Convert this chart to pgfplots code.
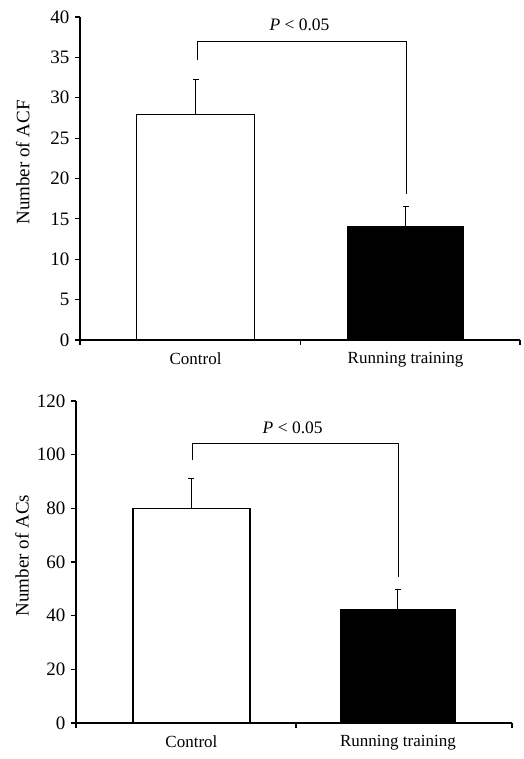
\documentclass[border=0pt]{standalone}
\usepackage{fontspec}
\setmainfont{Liberation Serif}
\usepackage{pgfplots}
\pgfplotsset{compat=1.18}
\pgfplotsset{
  panel/.style={
    scale only axis, anchor=south west,
    axis lines=left, axis line style={-, line width=1.3pt},
    tick align=outside, major tick length=5pt,
    tick style={line width=1.1pt, black},
    xticklabels={},
    /pgf/number format/assume math mode=true,
    yticklabel style={font=\fontsize{19}{22}\selectfont, xshift=-2pt},
    extra x tick style={major tick length=0pt, tick label style={yshift=-9pt}},
    extra x tick labels={Control,Running training},
    xticklabel style={font=\fontsize{17}{20}\selectfont},
    ylabel style={font=\fontsize{19}{22}\selectfont, anchor=center},
    clip=false,
  }
}
\begin{document}
\begin{tikzpicture}
\path (0pt,0pt) rectangle (521pt,759pt);
% Top panel
\begin{axis}[panel,
  at={(80pt,419pt)}, width=440pt, height=323pt,
  xmin=-0.55, xmax=1.545, ymin=0, ymax=40, ytick={0,5,...,40},
  xtick={-0.55,0.5,1.545}, extra x ticks={0,1},
  ylabel={Number of ACF},
  ylabel style={at={(axis description cs:-0.13,0.55)}},
]
\addplot[ybar, bar width=118pt, fill=white, draw=black, line width=1.2pt,
  error bars/.cd, y dir=plus, y explicit,
  error bar style={line width=1pt},
  error mark options={rotate=90, mark size=3pt, line width=1pt}]
  coordinates {(0,27.9) +- (0,4.4)};
\addplot[ybar, bar width=116pt, fill=black, draw=black, line width=1.2pt,
  error bars/.cd, y dir=plus, y explicit,
  error bar style={line width=1pt},
  error mark options={rotate=90, mark size=3pt, line width=1pt}]
  coordinates {(1,14.0) +- (0,2.5)};
\addplot[black, line width=0.9pt, mark=none] coordinates {(0.01,34.7) (0.01,37.0) (1.005,37.0) (1.005,18.1)};
\node at (axis cs:0.495,39.0) {\fontsize{17.5}{20}\selectfont\textit{P} < 0.05};
\end{axis}
% Bottom panel
\begin{axis}[panel,
  at={(76pt,36pt)}, width=436pt, height=322pt,
  xmin=-0.559, xmax=1.552, ymin=0, ymax=120, ytick={0,20,...,120},
  xtick={-0.559,0.506,1.552}, extra x ticks={0,1},
  ylabel={Number of ACs},
  ylabel style={at={(axis description cs:-0.124,0.52)}},
]
\addplot[ybar, bar width=117pt, fill=white, draw=black, line width=1.2pt,
  error bars/.cd, y dir=plus, y explicit,
  error bar style={line width=1pt},
  error mark options={rotate=90, mark size=3pt, line width=1pt}]
  coordinates {(0,79.8) +- (0,11.5)};
\addplot[ybar, bar width=114pt, fill=black, draw=black, line width=1.2pt,
  error bars/.cd, y dir=plus, y explicit,
  error bar style={line width=1pt},
  error mark options={rotate=90, mark size=3pt, line width=1pt}]
  coordinates {(1,42.1) +- (0,7.5)};
\addplot[black, line width=0.9pt, mark=none] coordinates {(0.007,98) (0.007,104) (1.0,104) (1.0,54.4)};
\node at (axis cs:0.49,110) {\fontsize{17.5}{20}\selectfont\textit{P} < 0.05};
\end{axis}
\end{tikzpicture}
\end{document}
